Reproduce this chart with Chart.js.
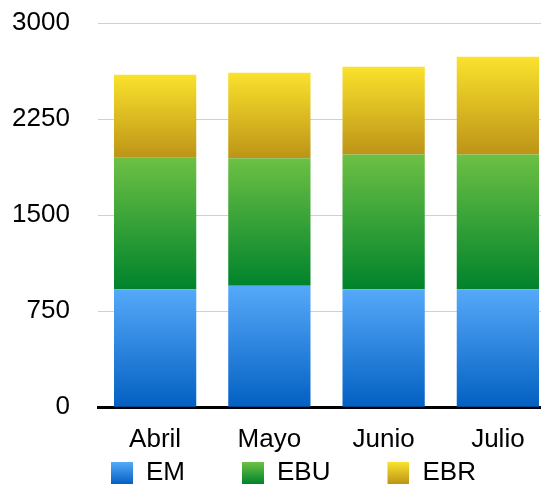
<!DOCTYPE html>
<html><head><meta charset="utf-8">
<script src="https://cdn.jsdelivr.net/npm/chart.js@4.4.1/dist/chart.umd.min.js"></script>
<style>
html,body{margin:0;padding:0;overflow:hidden;background:#fff;width:541px;height:484px;}
#wrap{position:absolute;left:0;top:0;width:555px;height:496px;}
</style></head><body>
<div id="wrap"><canvas id="c"></canvas></div>
<script>
const categories = ['Abril', 'Mayo', 'Junio', 'Julio'];
const seriesNames = ['EM', 'EBU', 'EBR'];
const emValues = [922, 948, 922, 922];
const ebuValues = [1026, 997, 1052, 1052];
const ebrValues = [648, 667, 685, 763];
const yTicks = [0, 750, 1500, 2250, 3000];

const seriesValues = [emValues, ebuValues, ebrValues];
const palette = [
  ['#56a9f9', '#0360c2'],
  ['#6dc044', '#00832c'],
  ['#fae22c', '#bd9418']
];
const FONT = 'Liberation Sans, Arial, Helvetica, sans-serif';

function segGradient(ctx) {
  const chart = ctx.chart;
  const d = ctx.datasetIndex;
  const scale = chart.scales && chart.scales.y;
  if (!chart.chartArea || !scale || ctx.type !== 'data') return palette[d][0];
  const i = ctx.dataIndex;
  let base = 0;
  for (let k = 0; k < d; k++) base += seriesValues[k][i];
  const top = base + seriesValues[d][i];
  const y0 = scale.getPixelForValue(top);
  const y1 = scale.getPixelForValue(base);
  const g = chart.ctx.createLinearGradient(0, y0, 0, y1);
  g.addColorStop(0, palette[d][0]);
  g.addColorStop(1, palette[d][1]);
  return g;
}

const SW = 74;
function swatch(d) {
  const c = document.createElement('canvas');
  c.width = SW; c.height = 22;
  const x = c.getContext('2d');
  const g = x.createLinearGradient(0, 0, 0, 22);
  g.addColorStop(0, palette[d][0]);
  g.addColorStop(1, palette[d][1]);
  x.fillStyle = g;
  x.fillRect(SW - 22, 0, 22, 22);
  return c;
}
const swatches = seriesNames.map((_, i) => swatch(i));

new Chart(document.getElementById('c'), {
  type: 'bar',
  data: {
    labels: categories,
    datasets: seriesNames.map((name, i) => ({
      label: name,
      data: seriesValues[i],
      backgroundColor: segGradient,
      borderWidth: 0,
      barPercentage: 0.72,
      categoryPercentage: 1
    }))
  },
  options: {
    responsive: true,
    maintainAspectRatio: false,
    animation: false,
    devicePixelRatio: 1,
    layout: { padding: { left: 54, top: 23, right: 0, bottom: 0 } },
    plugins: {
      tooltip: { enabled: false },
      legend: {
        position: 'bottom',
        align: 'start',
        labels: {
          padding: 5,
          usePointStyle: true,
          pointStyleWidth: SW,
          boxHeight: 22,
          color: '#000',
          font: { size: 26, family: FONT },
          generateLabels: (chart) => chart.data.datasets.map((ds, i) => ({
            text: ds.label,
            fillStyle: palette[i][0],
            strokeStyle: 'rgba(0,0,0,0)',
            lineWidth: 0,
            pointStyle: swatches[i],
            hidden: false,
            datasetIndex: i
          }))
        }
      }
    },
    scales: {
      x: {
        stacked: true,
        afterFit: (s) => { s.height = 47.7; },
        grid: { display: false, drawTicks: false },
        border: { display: true, color: '#000', width: 3 },
        ticks: { padding: 17.4, color: '#000', font: { size: 26, family: FONT } }
      },
      y: {
        stacked: true,
        min: 0,
        max: 3000,
        afterBuildTicks: (s) => { s.ticks = yTicks.map(v => ({ value: v })); },
        afterFit: (s) => { s.width = 44; },
        grid: { color: '#d0d0d0', lineWidth: 1, drawTicks: false },
        border: { display: false },
        ticks: {
          mirror: true, crossAlign: 'far', padding: -86,
          callback: (v) => String(v),
          color: '#000', font: { size: 26, family: FONT }
        }
      }
    }
  }
});
</script>
</body></html>
